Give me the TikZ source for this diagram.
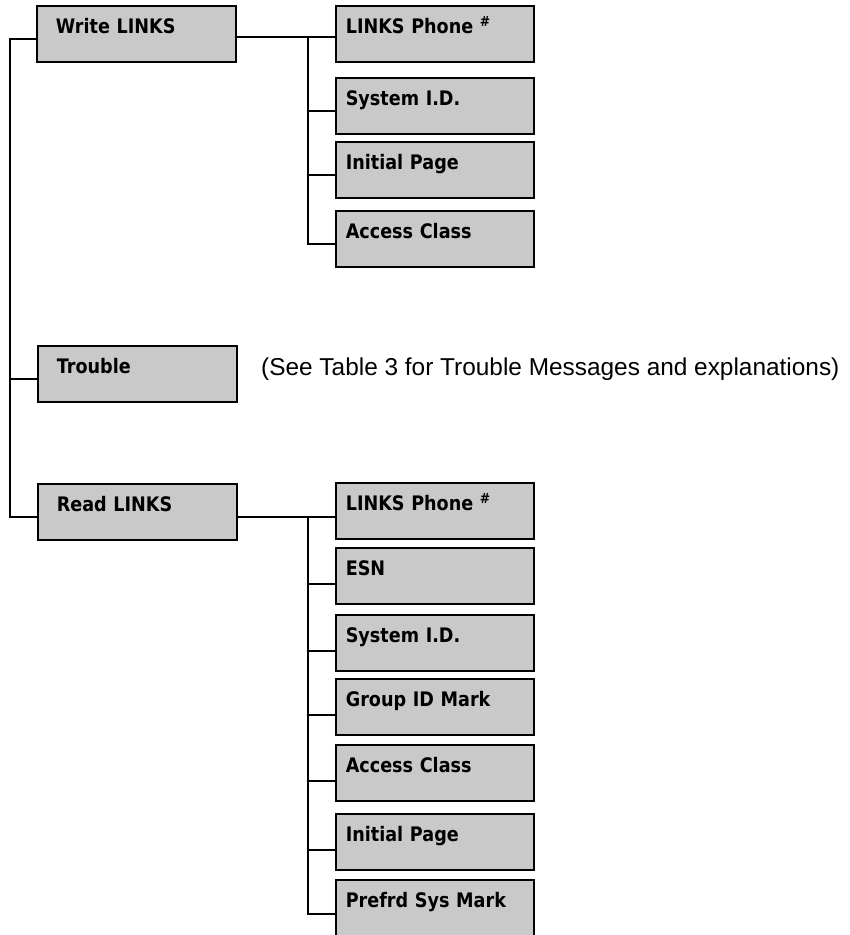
\documentclass[tikz,border=0pt]{standalone}
\usepackage{fontspec}
\setmainfont{Liberation Sans}
\newfontfamily\menufont[FakeStretch=0.88]{DejaVu Sans}
\usetikzlibrary{calc}

\begin{document}
\begin{tikzpicture}[x=1pt, y=-1pt,
    wire/.style    = {line width=2pt},
    menubox/.style = {draw, line width=1.6pt, fill=black!21, anchor=north west,
                      inner ysep=0pt, text height=28pt, text depth=28pt, align=left,
                      font=\menufont\bfseries\fontsize{20}{22}\selectfont},
    mainbox/.style = {menubox, inner xsep=19pt, text width=161pt},
    subbox/.style  = {menubox, inner xsep=10pt, text width=178pt}]
    % Frame
    \useasboundingbox (0,0) rectangle (850,935);
    % Definitions
    \coordinate (trunk) at (10,0);
    \coordinate (fork)  at (308,0);
    % Main menu
    \node[mainbox] (write)   at (36,5)   {Write LINKS};
    \node[mainbox] (trouble) at (37,345) {Trouble};
    \node[mainbox] (read)    at (37,483) {Read LINKS};
    % Write LINKS items
    \node[subbox] (wphone)  at (335,5)   {LINKS Phone \textsuperscript{\#}};
    \node[subbox] (wsys)    at (335,77)  {System I.D.};
    \node[subbox] (wpage)   at (335,141) {Initial Page};
    \node[subbox] (waccess) at (335,210) {Access Class};
    % Read LINKS items
    \node[subbox] (rphone)  at (335,482) {LINKS Phone \textsuperscript{\#}};
    \node[subbox] (resn)    at (335,547) {ESN};
    \node[subbox] (rsys)    at (335,614) {System I.D.};
    \node[subbox] (rgroup)  at (335,678) {Group ID Mark};
    \node[subbox] (raccess) at (335,744) {Access Class};
    \node[subbox] (rpage)   at (335,813) {Initial Page};
    \node[subbox] (rpref)   at (335,879) {Prefrd Sys Mark};
    % Trouble note
    \node[anchor=base west, inner sep=0pt, font=\fontsize{24.4}{28}\selectfont] (note)
        at (261,375) {(See Table 3 for Trouble Messages and explanations)};
    % Main trunk
    \draw[wire] ([yshift=-5pt]write.west) -| ([yshift=-5pt]read.west -| trunk)
                -- ([yshift=-5pt]read.west);
    \draw[wire] ([yshift=-5pt]trouble.west) -- ([yshift=-5pt]trouble.west -| trunk);
    % Write LINKS branch
    \draw[wire] ([yshift=-3pt]write.east) -- ([yshift=-3pt]wphone.west);
    \draw[wire] ([yshift=-3pt]wphone.west -| fork) |- ([yshift=-5pt]waccess.west);
    \foreach \n in {wsys,wpage}
        \draw[wire] ([yshift=-5pt]\n.west -| fork) -- ([yshift=-5pt]\n.west);
    % Read LINKS branch
    \draw[wire] ([yshift=-5pt]read.east) -- ([yshift=-5pt]read.east -| rphone.west);
    \draw[wire] ([yshift=-5pt]read.east -| fork) |- ([yshift=-6pt]rpref.west);
    \foreach \n in {resn,rsys,rgroup,raccess,rpage}
        \draw[wire] ([yshift=-8pt]\n.west -| fork) -- ([yshift=-8pt]\n.west);
\end{tikzpicture}
\end{document}
